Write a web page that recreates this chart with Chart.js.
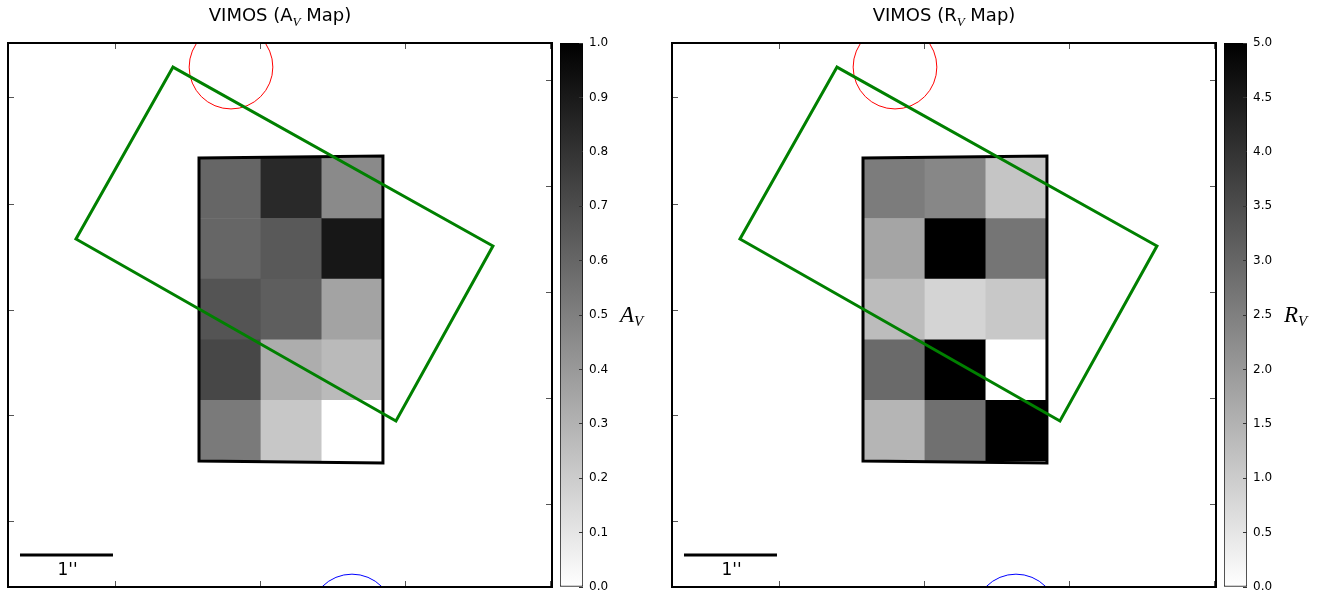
<!DOCTYPE html>
<html>
<head>
<meta charset="utf-8">
<title>VIMOS A_V and R_V maps</title>
<script src="https://cdn.jsdelivr.net/npm/chart.js@4.4.1/dist/chart.umd.min.js"></script>
<style>
    html, body { margin: 0; padding: 0; background: #fff; }
    #wrap { position: relative; width: 1325px; height: 596px; overflow: hidden; }
    .panel { position: absolute; top: 0; width: 661px; height: 596px; }
    .panel canvas { position: absolute; left: 0; top: 0; }
</style>
</head>
<body>
<div id="wrap">
    <div class="panel" style="left:0">
        <canvas id="mapAv" width="661" height="596"></canvas>
        <canvas id="barAv" width="661" height="596"></canvas>
    </div>
    <div class="panel" style="left:664px">
        <canvas id="mapRv" width="661" height="596"></canvas>
        <canvas id="barRv" width="661" height="596"></canvas>
    </div>
</div>
<script>
// spaxel values, rows top -> bottom, columns left -> right
const avValues = [
    [0.60, 0.84, 0.46],
    [0.60, 0.65, 0.91],
    [0.67, 0.63, 0.36],
    [0.72, 0.32, 0.27],
    [0.52, 0.22, 0.00]
];
const rvValues = [
    [2.57, 2.35, 1.14],
    [1.76, 5.00, 2.71],
    [1.31, 0.84, 1.08],
    [2.92, 5.00, 0.00],
    [1.45, 2.80, 5.00]
];

// colorbar ticks
const avTicks = [0.0, 0.1, 0.2, 0.3, 0.4, 0.5, 0.6, 0.7, 0.8, 0.9, 1.0];
const rvTicks = [0.0, 0.5, 1.0, 1.5, 2.0, 2.5, 3.0, 3.5, 4.0, 4.5, 5.0];

// WCS tick positions, arcsec from the lower left corner of the frame
const xTicks = [1.16, 2.72, 4.27, 5.83];
const yTicksLeft = [0.70, 1.84, 2.97, 4.11, 5.26];
const yTicksRight = [0.89, 2.03, 3.17, 4.31, 5.45];

// field geometry (arcsec)
const frameSize = 5.85;
const gridX0 = 2.065, gridY0 = 1.355, spaxelW = 0.655, spaxelH = 0.652;
const ifuOutline = [
    {x: 2.054, y: 4.613}, {x: 4.032, y: 4.634}, {x: 4.032, y: 1.333},
    {x: 2.054, y: 1.355}, {x: 2.054, y: 4.613}
];
const slitBox = [
    {x: 1.774, y: 5.591}, {x: 5.215, y: 3.667}, {x: 4.172, y: 1.785},
    {x: 0.731, y: 3.742}, {x: 1.774, y: 5.591}
];
const redCircle = [{x: 2.398, y: 5.591}];
const blueCircle = [{x: 3.699, y: -0.312}];
const circleRadius = 0.45;
const scaleBar = [{x: 0.129, y: 0.344}, {x: 1.129, y: 0.344}];

function grayFor(v, vmax) {
    const t = Math.max(0, Math.min(1, v / vmax));
    const g = Math.round(255 * (1 - t));
    return `rgb(${g},${g},${g})`;
}

function cellData(values) {
    const out = [];
    values.forEach((row, r) => {
        const top = gridY0 + spaxelH * (values.length - r);
        row.forEach((v, c) => {
            out.push({x: gridX0 + spaxelW * (c + 0.5), y: [top - spaxelH, top], v: v});
        });
    });
    return out;
}

// draws a run of text pieces (for the sub-scripted V)
function drawRuns(ctx, runs, x, y, align) {
    let total = 0;
    runs.forEach(r => {
        ctx.font = r.font;
        r.w = ctx.measureText(r.text).width;
        total += r.w;
    });
    let cx = align === 'center' ? x - total / 2 : x;
    ctx.textBaseline = 'alphabetic';
    ctx.textAlign = 'left';
    runs.forEach(r => {
        ctx.font = r.font;
        ctx.fillText(r.text, cx, y + (r.dy || 0));
        cx += r.w;
    });
}

const SANS = '"DejaVu Sans", sans-serif';
const MATH = '"Liberation Serif", "DejaVu Serif", serif';

function frameAxis(position, axis, ticks, isX) {
    return {
        type: 'linear',
        axis: axis,
        position: position,
        min: 0,
        max: frameSize,
        offset: false,
        ticks: {display: false},
        grid: {drawOnChartArea: false, drawTicks: true, tickLength: -6, color: '#555', lineWidth: 1, offset: false, z: 1},
        border: {display: true, color: '#000', width: 2, z: 1},
        afterBuildTicks: s => { s.ticks = ticks.map(value => ({value})); },
        afterFit: s => { if (isX) s.height = 0; else s.width = 0; }
    };
}

function makeMap(id, values, vmax, sym) {
    const titlePlugin = {
        id: 'mapTitle',
        afterDraw(chart) {
            const {ctx, chartArea} = chart;
            ctx.save();
            ctx.fillStyle = '#000';
            drawRuns(ctx, [
                {text: 'VIMOS (' + sym, font: '18px ' + SANS},
                {text: 'V', font: 'italic 13px ' + MATH, dy: 5},
                {text: ' Map)', font: '18px ' + SANS}
            ], (chartArea.left + chartArea.right) / 2, 21, 'center');
            // scale bar label
            const x = chart.scales.x, y = chart.scales.y;
            const mid = (scaleBar[0].x + scaleBar[1].x) / 2;
            ctx.font = '17px ' + SANS;
            ctx.textAlign = 'center';
            ctx.fillText("1''", x.getPixelForValue(mid) + 1, y.getPixelForValue(scaleBar[0].y) + 20);
            ctx.restore();
        }
    };

    const circleRadiusPx = ctx => {
        const s = ctx.chart.scales.x;
        return Math.abs(s.getPixelForValue(circleRadius) - s.getPixelForValue(0));
    };

    return new Chart(document.getElementById(id), {
        type: 'bar',
        data: {
            datasets: [
                {
                    type: 'line', label: 'slit', data: slitBox, order: 1,
                    borderColor: '#008000', borderWidth: 3, pointRadius: 0,
                    fill: false, tension: 0, borderJoinStyle: 'miter', borderCapStyle: 'square'
                },
                {
                    type: 'line', label: 'ifu', data: ifuOutline, order: 2,
                    borderColor: '#000', borderWidth: 3, pointRadius: 0,
                    fill: false, tension: 0, borderJoinStyle: 'miter', borderCapStyle: 'square'
                },
                {
                    type: 'line', label: 'scale', data: scaleBar, order: 3,
                    borderColor: '#000', borderWidth: 3, pointRadius: 0, fill: false
                },
                {
                    type: 'scatter', label: 'ref1', data: redCircle, order: 4, clip: 0,
                    showLine: false, pointRadius: circleRadiusPx, pointHoverRadius: circleRadiusPx,
                    pointBorderColor: '#ff0000', pointBorderWidth: 1,
                    pointBackgroundColor: 'rgba(0,0,0,0)'
                },
                {
                    type: 'scatter', label: 'ref2', data: blueCircle, order: 4, clip: 0,
                    showLine: false, pointRadius: circleRadiusPx, pointHoverRadius: circleRadiusPx,
                    pointBorderColor: '#0000ff', pointBorderWidth: 1,
                    pointBackgroundColor: 'rgba(0,0,0,0)'
                },
                {
                    type: 'bar', label: 'cells', data: cellData(values), order: 10,
                    backgroundColor: ctx => grayFor(ctx.raw.v, vmax),
                    borderWidth: 0, barPercentage: 1, categoryPercentage: 1
                }
            ]
        },
        options: {
            responsive: false,
            animation: false,
            devicePixelRatio: 1,
            events: [],
            layout: {padding: {left: 8, top: 43, right: 109, bottom: 9}},
            plugins: {legend: {display: false}, tooltip: {enabled: false}},
            scales: {
                x: frameAxis('bottom', 'x', xTicks, true),
                xTop: frameAxis('top', 'x', xTicks, true),
                y: frameAxis('left', 'y', yTicksLeft, false),
                yRight: frameAxis('right', 'y', yTicksRight, false)
            }
        },
        plugins: [titlePlugin]
    });
}

function makeColorbar(id, vmax, ticks, sym) {
    const labelPlugin = {
        id: 'cbarLabel',
        afterDraw(chart) {
            const {ctx, chartArea} = chart;
            ctx.save();
            ctx.fillStyle = '#000';
            drawRuns(ctx, [
                {text: sym, font: 'italic 23px ' + MATH},
                {text: 'V', font: 'italic 15px ' + MATH, dy: 4}
            ], chartArea.right + 37, (chartArea.top + chartArea.bottom) / 2 + 7, 'left');
            ctx.restore();
        }
    };

    return new Chart(document.getElementById(id), {
        type: 'bar',
        data: {
            labels: [''],
            datasets: [{
                data: [[0, vmax]],
                backgroundColor: ctx => {
                    const chart = ctx.chart;
                    const y = chart.scales.y;
                    if (!chart.chartArea || !y) return '#888';
                    const g = chart.ctx.createLinearGradient(0, y.getPixelForValue(0), 0, y.getPixelForValue(vmax));
                    g.addColorStop(0, '#ffffff');
                    g.addColorStop(1, '#000000');
                    return g;
                },
                borderColor: '#000',
                borderWidth: 1,
                borderSkipped: false,
                barPercentage: 1,
                categoryPercentage: 1
            }]
        },
        options: {
            responsive: false,
            animation: false,
            devicePixelRatio: 1,
            events: [],
            layout: {padding: {left: 560, top: 43, right: 18, bottom: 9}},
            plugins: {legend: {display: false}, tooltip: {enabled: false}},
            scales: {
                x: {display: false},
                y: {
                    position: 'right',
                    min: 0,
                    max: vmax,
                    afterBuildTicks: s => { s.ticks = ticks.map(value => ({value})); },
                    afterFit: s => {
                        s.width = 60;
                        s.paddingTop = 0;
                        s.paddingBottom = 0;
                    },
                    ticks: {
                        autoSkip: false,
                        padding: 10,
                        color: '#000',
                        font: {family: SANS, size: 12},
                        callback: v => v.toFixed(1)
                    },
                    grid: {drawOnChartArea: false, tickLength: -4, color: '#333', z: 1},
                    border: {display: false}
                }
            }
        },
        plugins: [labelPlugin]
    });
}

makeMap('mapAv', avValues, 1.0, 'A');
makeColorbar('barAv', 1.0, avTicks, 'A');
makeMap('mapRv', rvValues, 5.0, 'R');
makeColorbar('barRv', 5.0, rvTicks, 'R');
</script>
</body>
</html>
